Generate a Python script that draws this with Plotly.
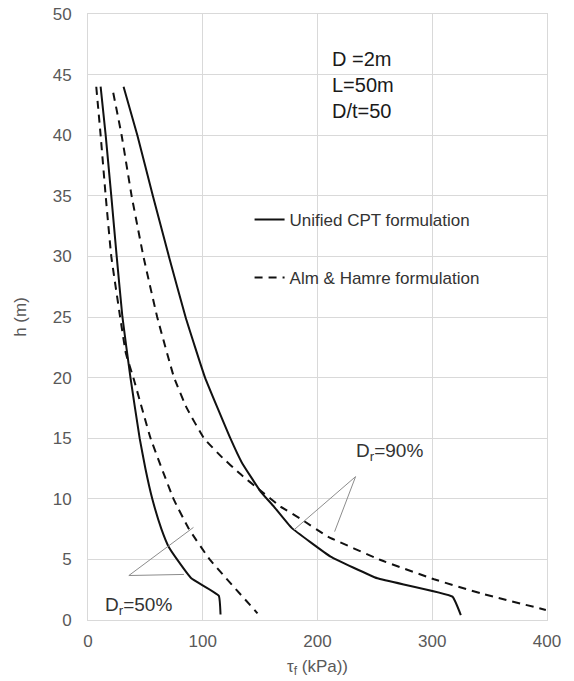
import plotly.graph_objects as go

# ---- data ----
h_cpt50 = [44, 40, 35, 30, 25, 20, 15, 12.5, 10, 7.5, 6, 5, 3.44, 2.0, 0.45]
t_cpt50 = [11, 15.4, 20.3, 25, 30, 37, 45, 50, 56, 64, 70.5, 77.6, 90, 114, 115.5]

h_ah50 = [44, 40, 35, 30, 25, 22, 20, 15, 10, 7.5, 5, 0.55]
t_ah50 = [7.2, 11, 15.4, 20.3, 28, 33, 39.5, 54.5, 74.5, 88, 106, 147.7]

h_cpt90 = [44, 40, 35, 30, 25, 20, 15, 13, 10.6, 9.36, 7.6, 5.23, 3.44, 1.93, 0.41]
t_cpt90 = [31, 43, 56.5, 70.5, 85, 102, 124, 134, 150.4, 162, 177.5, 211.4, 252.2, 317.6, 324.9]

h_ah90 = [43.5, 40, 35, 30, 25, 20, 17.5, 15, 13.5, 12.1, 10.7, 9.36, 8.26, 6.88, 4.95, 3.36, 2.2, 0.83]
t_ah90 = [22, 29.3, 38, 48.3, 60.3, 75, 86, 101, 116, 132, 150, 167.8, 186.7, 209, 255, 301.6, 342.3, 399]

x_ticks = [0, 100, 200, 300, 400]
y_ticks = [0, 5, 10, 15, 20, 25, 30, 35, 40, 45, 50]

legend_names = ["Unified CPT formulation", "Alm & Hamre formulation"]
info_text = "D =2m<br>L=50m<br>D/t=50"
label50 = "D<sub>r</sub>=50%"
label90 = "D<sub>r</sub>=90%"

FONT = "Liberation Sans, Arial, sans-serif"
LINE = "#111111"
DASH = "8px,6px"

fig = go.Figure()

def add(t, h, dash, name, show, group):
    fig.add_trace(go.Scatter(
        x=t, y=h, mode="lines", name=name, showlegend=show, legendgroup=group,
        line=dict(color=LINE, width=2, dash=dash, shape="spline", smoothing=0.3),
        hoverinfo="skip",
    ))

add(t_cpt50, h_cpt50, "solid", legend_names[0], True, "a")
add(t_ah50, h_ah50, DASH, legend_names[1], True, "b")
add(t_cpt90, h_cpt90, "solid", legend_names[0], False, "a")
add(t_ah90, h_ah90, DASH, legend_names[1], False, "b")

grid = "#d9d9d9"
gray = "#8c8c8c"

shapes = [
    # white legend background covering gridlines
    dict(type="rect", xref="paper", yref="paper", x0=0.3076, x1=0.9086, y0=0.5168, y1=0.7066,
         fillcolor="white", line=dict(width=0), layer="between"),
    # Dr=50% leader lines
    dict(type="line", x0=35.6, y0=3.67, x1=91.9, y1=7.64, line=dict(color=gray, width=1)),
    dict(type="line", x0=35.6, y0=3.67, x1=83.6, y1=3.76, line=dict(color=gray, width=1)),
    # Dr=90% leader lines
    dict(type="line", x0=233.2, y0=11.83, x1=179.4, y1=7.43, line=dict(color=gray, width=1)),
    dict(type="line", x0=233.2, y0=11.83, x1=214.9, y1=7.29, line=dict(color=gray, width=1)),
]

annotations = [
    dict(x=210.5, y=47.35, text=info_text, showarrow=False, xanchor="left", yanchor="top",
         align="left", font=dict(family=FONT, size=20, color="#1a1a1a")),
    dict(x=44.3, y=1.15, text=label50, showarrow=False, xanchor="center", yanchor="middle",
         font=dict(family=FONT, size=19, color="#333333")),
    dict(x=262.9, y=13.9, text=label90, showarrow=False, xanchor="center", yanchor="middle",
         font=dict(family=FONT, size=19, color="#333333")),
]

# the page body has an 8px margin, so the figure is made 8px smaller and shifted
fig.update_layout(
    width=566, height=673,
    margin=dict(l=80, r=27, t=6, b=61),
    paper_bgcolor="white", plot_bgcolor="white",
    font=dict(family=FONT, size=17, color="#595959"),
    shapes=shapes, annotations=annotations,
    legend=dict(x=0.352, y=0.690, xanchor="left", yanchor="top", bgcolor="rgba(0,0,0,0)",
                font=dict(family=FONT, size=17, color="#333333"), tracegroupgap=33,
                borderwidth=0),
    showlegend=True,
)
fig.update_xaxes(range=[0, 400], tickvals=x_ticks, showgrid=True, gridcolor=grid, gridwidth=1,
                 showline=True, linecolor=grid, mirror=True, zeroline=False, ticks="",
                 ticklabelstandoff=6, automargin=False, ticklabeloverflow="allow",
                 title=dict(text="τ<sub>f</sub> (kPa))", font=dict(size=17, color="#595959"), standoff=9))
fig.update_yaxes(range=[0, 50], tickvals=y_ticks, showgrid=True, gridcolor=grid, gridwidth=1,
                 showline=True, linecolor=grid, mirror=True, zeroline=False, ticks="",
                 ticklabelstandoff=12, automargin=False, ticklabeloverflow="allow",
                 title=dict(text="h (m)", font=dict(size=17, color="#595959"), standoff=21))

fig.write_html("out.html")
